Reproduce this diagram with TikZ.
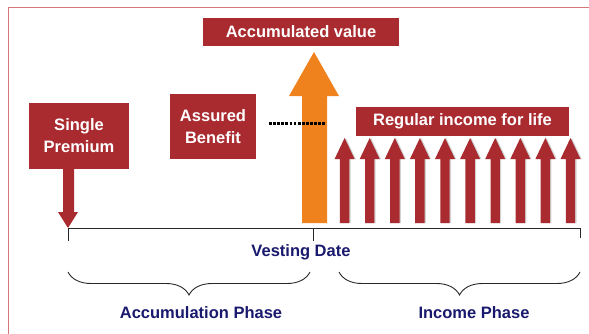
\documentclass[tikz,border=0pt]{standalone}
\usepackage{fontspec}
\setmainfont{Liberation Sans}
\usetikzlibrary{decorations.pathreplacing}
\definecolor{boxred}{RGB}{169,43,48}
\definecolor{framered}{RGB}{212,118,122}
\definecolor{arrorange}{RGB}{240,130,30}
\definecolor{navy}{RGB}{25,25,110}
\definecolor{linegray}{RGB}{40,40,40}
\tikzset{
  redbox/.style={fill=boxred, text=white, font=\bfseries\fontsize{16.5}{22}\selectfont, align=center, inner sep=0pt},
  navylabel/.style={text=navy, font=\bfseries\fontsize{16.5}{19}\selectfont, inner sep=0pt},
  timeline/.style={draw=linegray, line width=0.9pt},
  phasebrace/.style={draw=linegray, line width=0.9pt, decorate, decoration={brace, mirror, amplitude=23pt}},
}
\begin{document}
\begin{tikzpicture}[x=1pt, y=-1pt]
\useasboundingbox (0,0) rectangle (589,333);
% frame
\draw[framered, line width=1.6pt] (8.5,340) -- (8.5,7.3) -- (600,7.3);

% boxes
\node[redbox, minimum width=196pt, minimum height=28pt] (accval) at (301,32) {Accumulated value};
\node[redbox, minimum width=100pt, minimum height=66pt] (single) at (79,136) {Single\\Premium};
\node[redbox, minimum width=86pt, minimum height=65pt] (assured) at (213,126.5) {Assured\\Benefit};
\node[redbox, minimum width=213pt, minimum height=29pt] (regular) at (462.5,121.5) {Regular income for life};

% single premium arrow
\fill[boxred] (63,169) -- (74,169) -- (74,212) -- (78,212) -- (68,228) -- (58,212) -- (63,212) -- cycle;

% orange arrow
\fill[arrorange] (302,223) -- (302,96) -- (289,96) -- (314,52) -- (339,96) -- (327,96) -- (327,223) -- cycle;

% dotted line
\coordinate (dotA) at (269,123);
\coordinate (dotB) at (325,123);
\draw[black, line width=3pt, dash pattern=on 2.8pt off 1.3pt] (dotA) -- (dotB);

% small income arrows
\foreach \i in {0,...,9}{
  \pgfmathsetmacro{\cx}{344.6+25.1*\i}
  \fill[gray!35] ({\cx+1.3-4.7},223) -- ({\cx+1.3-4.7},159) -- ({\cx+1.3-10},159) -- ({\cx+1.3},138) -- ({\cx+1.3+10},159) -- ({\cx+1.3+4.7},159) -- ({\cx+1.3+4.7},223) -- cycle;
  \fill[boxred] ({\cx-4.7},223) -- ({\cx-4.7},159) -- ({\cx-10},159) -- (\cx,138) -- ({\cx+10},159) -- ({\cx+4.7},159) -- ({\cx+4.7},223) -- cycle;
}

% timeline
\coordinate (tstart) at (68,228);
\coordinate (tvest) at (313,228);
\coordinate (tend) at (580,228);
\coordinate (tstartlow) at (68,241);
\coordinate (tvestlow) at (313,241);
\coordinate (tendlow) at (580,238);
\draw[timeline] (tstartlow) -- (tstart) -- (tend) -- (tendlow);
\draw[timeline] (tvest) -- (tvestlow);

\node[navylabel] (vesting) at (301,252) {Vesting Date};

% braces
\coordinate (b1a) at (68,272);
\coordinate (b1b) at (310,272);
\coordinate (b2a) at (339,272);
\coordinate (b2b) at (580,272);
\draw[phasebrace] (b1a) -- (b1b);
\draw[phasebrace] (b2a) -- (b2b);

\node[navylabel] (accphase) at (201,313) {Accumulation Phase};
\node[navylabel] (incphase) at (474,313) {Income Phase};
\end{tikzpicture}
\end{document}
